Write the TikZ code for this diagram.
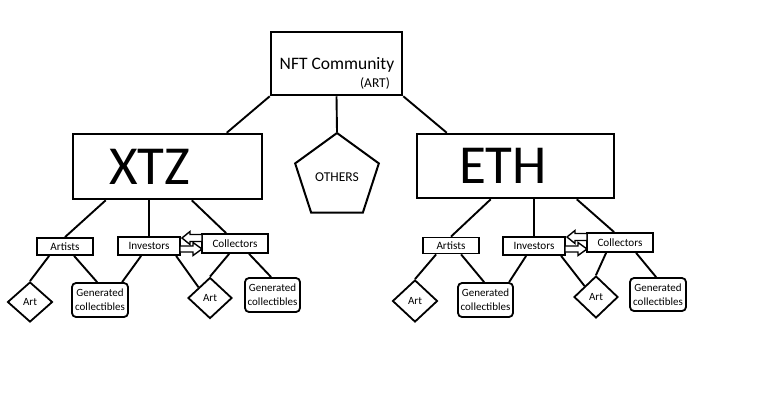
\documentclass[tikz,border=0pt]{standalone}
\usepackage{fontspec}
\setmainfont{Carlito}
\usetikzlibrary{shapes.geometric,calc}
\begin{document}
\begin{tikzpicture}[x=1pt,y=-1pt,
  conn/.style={line width=1.9pt},
  bigbox/.style={draw, line width=2.5pt, inner sep=0pt},
  sbox/.style={draw, line width=1.8pt, inner sep=0pt, font=\fontsize{11.2}{12}\selectfont},
  gbox/.style={draw, line width=1.8pt, rounded corners=4pt, inner sep=0pt, align=center, font=\fontsize{11}{14}\selectfont},
  dia/.style={draw, diamond, line width=1.8pt, inner sep=0pt, font=\fontsize{11}{12}\selectfont},
  barrow/.style={draw, line width=1.4pt, fill=white, line join=miter}]
\useasboundingbox (0,0) rectangle (768,400);
\fill[white] (0,0) rectangle (768,400);

% top
\node[bigbox, minimum width=131pt, minimum height=63pt] (nft) at (336.5,63.5) {};
\node[font=\fontsize{17.5}{20}\selectfont] (nftt) at (337,65) {NFT Community};
\node[font=\fontsize{13.5}{15}\selectfont] (artt) at (375,83) {(ART)};

% level 2
\node[bigbox, minimum width=189pt, minimum height=65pt] (xtz) at (167.5,166.5) {};
\node[font=\fontsize{55}{60}\selectfont] (xtzt) at (150,167) {XTZ};
\node[bigbox, minimum width=197pt, minimum height=64pt] (eth) at (515.5,166) {};
\node[font=\fontsize{55}{60}\selectfont] (etht) at (503,166) {ETH};
\node[draw, line width=2pt, regular polygon, regular polygon sides=5, minimum size=88pt, inner sep=0pt, font=\fontsize{13.5}{15}\selectfont] (oth) at (337,177) {OTHERS};

% XTZ children
\node[sbox, minimum width=56pt, minimum height=17pt] (ar1) at (65,246.5) {Artists};
\node[sbox, minimum width=62pt, minimum height=18pt] (in1) at (149,246) {Investors};
\node[sbox, minimum width=66pt, minimum height=19pt] (co1) at (235,243.5) {Collectors};
\node[dia, minimum width=45pt, minimum height=40pt] (d1) at (30,302) {Art};
\node[gbox, minimum width=56pt, minimum height=34pt] (g1) at (100,300) {Generated\\collectibles};
\node[dia, minimum width=44pt, minimum height=41pt] (d2) at (210,298) {Art};
\node[gbox, minimum width=55pt, minimum height=34pt] (g2) at (272.5,295) {Generated\\collectibles};

% ETH children
\node[sbox, minimum width=56pt, minimum height=16pt] (ar2) at (451,245.5) {Artists};
\node[sbox, minimum width=62pt, minimum height=18pt] (in2) at (534,246) {Investors};
\node[sbox, minimum width=66pt, minimum height=19pt] (co2) at (620,242.5) {Collectors};
\node[dia, minimum width=45pt, minimum height=42pt] (d3) at (415,301) {Art};
\node[gbox, minimum width=55pt, minimum height=34pt] (g3) at (485.5,300) {Generated\\collectibles};
\node[dia, minimum width=44pt, minimum height=42pt] (d4) at (596,297) {Art};
\node[gbox, minimum width=56pt, minimum height=33pt] (g4) at (658,294.5) {Generated\\collectibles};

% connectors top
\draw[conn] (nft.south west) -- ($(xtz.north west)+(155,0)$);
\draw[conn] (nft.south) -- (oth.corner 1);
\draw[conn] (nft.south east) -- ($(eth.north west)+(31,0)$);

% XTZ connectors
\draw[conn] ($(xtz.south west)+(34,0)$) -- (ar1.north);
\draw[conn] (xtz.south -| in1.north) -- (in1.north);
\draw[conn] ($(xtz.south west)+(120,0)$) -- ($(co1.north west)+(25,0)$);
\draw[conn] ($(ar1.south west)+(13,0)$) -- (d1.north);
\draw[conn] ($(ar1.south west)+(38,0)$) -- ($(g1.north west)+(26,0)$);
\draw[conn] ($(in1.south west)+(24,0)$) -- ($(g1.north west)+(51,0)$);
\draw[conn] ($(in1.south west)+(59,0)$) -- (d2.north west);
\draw[conn] ($(co1.south west)+(28,0)$) -- (d2.north);
\draw[conn] ($(co1.south west)+(48,0)$) -- ($(g2.north west)+(27,0)$);

% ETH connectors
\draw[conn] ($(eth.south west)+(75,0)$) -- (ar2.north);
\draw[conn] (eth.south -| in2.north) -- (in2.north);
\draw[conn] ($(eth.south west)+(161,0)$) -- ($(co2.north west)+(28,0)$);
\draw[conn] ($(ar2.south west)+(14,0)$) -- (d3.north);
\draw[conn] ($(ar2.south west)+(39,0)$) -- ($(g3.north west)+(27,0)$);
\draw[conn] ($(in2.south west)+(24,0)$) -- ($(g3.north west)+(52,0)$);
\draw[conn] ($(in2.south west)+(59,0)$) -- (d4.north west);
\draw[conn] ($(co2.south west)+(20,0)$) -- (d4.north);
\draw[conn] ($(co2.south west)+(50,0)$) -- ($(g4.north west)+(27,0)$);

% block arrows XTZ
\draw[barrow] (182,238) -- (190,231.5) -- (190,234.5) -- (202,234.5) -- (202,241.5) -- (190,241.5) -- (190,244.5) -- cycle;
\draw[barrow] (202,249) -- (193,242.5) -- (193,246) -- (180,246) -- (180,252) -- (193,252) -- (193,255.5) -- cycle;
% block arrows ETH
\draw[barrow] (567,237) -- (575,230.5) -- (575,233.5) -- (587,233.5) -- (587,240.5) -- (575,240.5) -- (575,243.5) -- cycle;
\draw[barrow] (587,249) -- (578,242.5) -- (578,246) -- (565,246) -- (565,252) -- (578,252) -- (578,255.5) -- cycle;
\end{tikzpicture}
\end{document}
